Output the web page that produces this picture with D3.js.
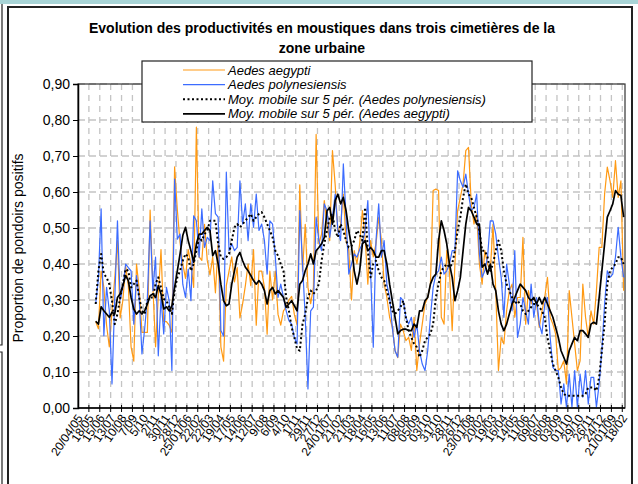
<!DOCTYPE html>
<html>
<head>
<meta charset="utf-8">
<title>Evolution des productivités</title>
<script src="https://cdn.jsdelivr.net/npm/d3@7"></script>
<style>
  body { margin: 0; background: #fff; }
  svg { font-family: "Liberation Sans", Arial, sans-serif; }
  .grid line { stroke: #c4c4c4; stroke-width: 1.3; }
</style>
</head>
<body>
<script>
// tick labels, one every 4 weeks (201 weekly samples)
var tickLabels = ["20/04/05","18/05","15/06","13/07","10/08","7/09","5/10","2/11","30/11","28/12",
  "25/01/06","22/02","22/03","19/04","17/05","14/06","12/07","9/08","6/09","4/10","1/11","29/11","27/12",
  "24/01/07","21/02","21/03","18/04","16/05","13/06","11/07","08/08","05/09","03/10","31/10","28/11","26/12",
  "23/01/08","20/02","19/03","16/04","14/05","11/06","09/07","06/08","03/09","01/10","29/10","26/11","24/12",
  "21/01/09","18/02"];
var nWeeks = 201;

var aegypti = [null,null,null,null,null,null,
  .24,.22,.38,.335,.23,.17,.27,.36,.465,.25,.30,.395,.34,.17,.13,.40,.33,.21,.21,.21,
  .55,.34,.17,.31,.44,.24,.24,.23,.21,.67,.55,.46,.40,.36,.44,.40,.335,.78,.42,.41,
  .51,.41,.37,.42,.32,.456,.17,.13,.34,.38,.42,.35,.39,.25,.29,.34,.40,.34,.44,.23,
  .38,.38,.335,.205,.38,.30,.38,.26,.23,.27,.28,.30,.31,.26,.23,.62,.38,.51,.335,.29,
  .335,.76,.456,.483,.576,.51,.465,.715,.62,.49,.51,.594,.465,.437,.30,.437,.40,.456,.548,.474,
  .344,.465,.42,.456,.53,.465,.344,.307,.252,.224,.16,.14,.233,.215,.187,.196,.16,.252,.104,.178,
  .233,.289,.307,.344,.604,.608,.604,.252,.233,.437,.381,.215,.40,.548,.585,.622,.715,.724,.567,.511,
  .539,.40,.344,.437,.40,.381,.511,.326,.104,.196,.178,.27,.326,.344,.252,.307,.307,.474,.233,.326,
  .289,.307,.289,.224,.27,.307,.363,.252,.233,.206,.104,.113,.131,.067,.326,.252,.178,.104,.131,.344,
  .252,.196,.27,.233,.326,.446,.446,.594,.669,.631,.585,.687,.585,.631,.326];

var polynesiensis = [null,null,null,null,null,null,
  .289,.36,.553,.201,.335,.27,.067,.30,.52,.30,.335,.40,.39,.381,.233,.368,.30,.15,.22,.307,
  .52,.326,.419,.145,.307,.206,.335,.298,.104,.636,.469,.483,.344,.307,.386,.298,.534,.52,.419,.553,
  .446,.474,.465,.631,.54,.53,.215,.20,.655,.437,.456,.437,.446,.631,.511,.567,.465,.567,.502,.594,
  .493,.511,.465,.372,.52,.511,.419,.307,.344,.307,.27,.243,.233,.196,.178,.548,.40,.252,.053,.27,
  .28,.53,.465,.437,.567,.548,.474,.53,.594,.493,.465,.678,.53,.372,.40,.428,.419,.44,.456,.493,
  .576,.381,.169,.465,.567,.419,.465,.344,.307,.224,.159,.141,.307,.298,.252,.233,.252,.196,.233,.159,
  .122,.104,.159,.252,.335,.372,.381,.419,.372,.381,.40,.437,.437,.659,.631,.613,.65,.594,.548,.557,
  .594,.428,.363,.381,.419,.52,.52,.483,.419,.363,.252,.40,.344,.27,.437,.196,.233,.307,.27,.233,
  .344,.252,.307,.233,.206,.289,.307,.196,.113,.104,.104,.011,.067,.002,.094,.002,.104,.002,.094,.03,
  .104,.011,.085,.085,.002,.067,.159,.289,.381,.363,.372,.419,.502,.419,.363];

var mmAegypti = [null,null,null,null,null,null,
  .241,.233,.281,.27,.261,.252,.266,.261,.307,.317,.34,.368,.354,.307,.275,.261,.27,.261,.27,.289,
  .312,.317,.307,.34,.317,.275,.281,.27,.284,.335,.381,.428,.479,.502,.465,.437,.405,.456,.483,.483,
  .493,.502,.493,.423,.437,.40,.344,.298,.284,.289,.344,.381,.419,.432,.409,.391,.381,.368,.354,.344,
  .354,.344,.326,.289,.326,.335,.317,.326,.317,.307,.28,.289,.298,.284,.27,.344,.354,.381,.40,.428,
  .40,.437,.446,.456,.474,.548,.557,.511,.576,.594,.567,.585,.548,.493,.45,.381,.344,.381,.456,.465,
  .437,.446,.437,.419,.419,.437,.437,.40,.344,.298,.252,.206,.215,.219,.219,.215,.215,.233,.224,.27,
  .27,.298,.307,.344,.363,.372,.465,.52,.493,.456,.40,.363,.298,.326,.363,.437,.511,.557,.548,.53,
  .511,.511,.391,.40,.372,.40,.344,.326,.27,.233,.215,.233,.261,.289,.307,.326,.344,.335,.326,.307,
  .298,.307,.289,.307,.289,.307,.289,.27,.252,.224,.196,.159,.141,.122,.159,.178,.196,.187,.215,.215,
  .206,.196,.233,.238,.233,.307,.381,.456,.53,.548,.567,.604,.594,.59,.53];

var mmPolynesiensis = [null,null,null,null,null,null,
  .289,.381,.428,.372,.363,.344,.298,.233,.261,.307,.344,.386,.381,.335,.344,.354,.307,.27,.261,.298,
  .307,.307,.344,.363,.335,.303,.298,.28,.261,.326,.363,.381,.409,.428,.419,.381,.40,.437,.474,.465,
  .483,.493,.52,.52,.52,.456,.419,.414,.419,.428,.465,.502,.511,.502,.511,.52,.53,.539,.52,.53,
  .539,.544,.53,.511,.493,.474,.437,.423,.40,.381,.307,.27,.224,.196,.164,.159,.233,.261,.307,.326,
  .317,.326,.344,.409,.456,.493,.53,.539,.493,.474,.511,.493,.465,.446,.45,.465,.493,.483,.465,.557,
  .437,.363,.40,.409,.381,.363,.354,.326,.298,.27,.261,.27,.28,.298,.252,.215,.196,.178,.169,.141,
  .159,.187,.196,.206,.233,.307,.344,.381,.391,.40,.391,.40,.437,.493,.53,.585,.622,.594,.585,.557,
  .53,.493,.437,.437,.419,.381,.40,.437,.465,.437,.381,.344,.326,.307,.289,.298,.289,.27,.261,.27,
  .28,.289,.289,.28,.27,.252,.196,.159,.122,.104,.085,.057,.039,.034,.034,.034,.034,.034,.034,.034,
  .039,.057,.057,.057,.048,.085,.159,.233,.344,.381,.391,.40,.419,.419,.40];

var seriesNames = ["Aedes aegypti", "Aedes polynesiensis",
  "Moy. mobile sur 5 pér. (Aedes polynesiensis)", "Moy. mobile sur 5 pér. (Aedes aegypti)"];
var yTicks = [0, .1, .2, .3, .4, .5, .6, .7, .8, .9];

var W = 638, H = 484;
var plot = {left: 78, top: 84, right: 625, bottom: 408};

var svg = d3.select("body").append("svg")
    .attr("width", W).attr("height", H);

// window bits around the chart
svg.append("rect").attr("x", 0).attr("y", 0).attr("width", W).attr("height", 4).attr("fill", "#a8d4d6");
svg.append("rect").attr("x", 8).attr("y", 7).attr("width", 624).attr("height", 490)
    .attr("fill", "#fff").attr("stroke", "#222").attr("stroke-width", 2);
svg.append("path").attr("d", "M2,4V345H0 M0,352H2V484").attr("fill", "none").attr("stroke", "#222").attr("stroke-width", 1.2);

// title
var title = svg.append("text").attr("text-anchor", "middle")
    .attr("font-size", 14).attr("font-weight", "bold").attr("fill", "#000");
title.append("tspan").attr("x", 322).attr("y", 33).text("Evolution des productivités en moustiques dans trois cimetières de la");
title.append("tspan").attr("x", 322).attr("y", 53).text("zone urbaine");

var weeks = d3.range(nWeeks);
var x = d3.scaleBand().domain(weeks).range([plot.left, plot.right]);
var y = d3.scaleLinear().domain([0, 0.9]).range([plot.bottom, plot.top]);
var cx = function(i) { return x(i) + x.bandwidth() / 2; };

// grid
var grid = svg.append("g").attr("class", "grid");
grid.selectAll(".h").data(yTicks.slice(1)).enter().append("line")
    .attr("x1", plot.left).attr("x2", plot.right)
    .attr("y1", function(d) { return y(d); }).attr("y2", function(d) { return y(d); })
    .attr("stroke-dasharray", "7,4");
var tickIdx = d3.range(4, nWeeks, 4);
grid.selectAll(".v").data(tickIdx).enter().append("line")
    .attr("x1", function(d) { return x(d); }).attr("x2", function(d) { return x(d); })
    .attr("y1", plot.top).attr("y2", plot.bottom)
    .attr("stroke-dasharray", "6,5");

// plot frame
svg.append("rect").attr("x", plot.left).attr("y", plot.top)
    .attr("width", plot.right - plot.left).attr("height", plot.bottom - plot.top)
    .attr("fill", "none").attr("stroke", "#333").attr("stroke-width", 1.2);

// series
var line = d3.line()
    .defined(function(d) { return d != null; })
    .x(function(d, i) { return cx(i); })
    .y(function(d) { return y(d); });

var styles = [
  {data: aegypti, color: "#ff9a14", width: 1.2, dash: null},
  {data: polynesiensis, color: "#3c6cff", width: 1.2, dash: null},
  {data: mmPolynesiensis, color: "#000", width: 2, dash: "2,2.5"},
  {data: mmAegypti, color: "#000", width: 1.7, dash: null}
];
styles.forEach(function(s) {
  svg.append("path").datum(s.data)
      .attr("fill", "none").attr("stroke", s.color)
      .attr("stroke-width", s.width)
      .attr("stroke-dasharray", s.dash)
      .attr("stroke-linejoin", "round")
      .attr("d", line);
});

// y axis
var yAxis = svg.append("g")
    .attr("transform", "translate(" + plot.left + ",0)")
    .call(d3.axisLeft(y).tickValues(yTicks).tickSize(5).tickPadding(3)
      .tickFormat(function(d) { return d3.format(".2f")(d).replace(".", ","); }));
yAxis.select(".domain").attr("stroke", "#000").attr("stroke-width", 1.5);
yAxis.selectAll("text").attr("font-size", 14).attr("fill", "#000").attr("font-family", "Liberation Sans, Arial, sans-serif");

// x axis: ticks every 4 weeks, labels rotated
var xAxis = svg.append("g")
    .attr("transform", "translate(0," + plot.bottom + ")");
xAxis.append("line").attr("x1", plot.left).attr("x2", plot.right)
    .attr("stroke", "#000").attr("stroke-width", 1.5);
xAxis.selectAll(".tk").data(tickIdx).enter().append("line")
    .attr("x1", function(d) { return x(d); }).attr("x2", function(d) { return x(d); })
    .attr("y1", -3).attr("y2", 4).attr("stroke", "#000");
xAxis.selectAll(".lb").data(tickLabels).enter().append("text")
    .attr("text-anchor", "end")
    .attr("font-size", 12)
    .attr("transform", function(d, k) { return "translate(" + (cx(k * 4) + 4) + ",10) rotate(-56)"; })
    .text(function(d) { return d; });

// y title
svg.append("text").attr("text-anchor", "middle").attr("font-size", 14)
    .attr("transform", "translate(23,248) rotate(-90)")
    .text("Proportion de pondoirs positifs");

// legend
var lg = svg.append("g").attr("transform", "translate(142,61)");
lg.append("rect").attr("width", 390).attr("height", 61)
    .attr("fill", "#fff").attr("stroke", "#222").attr("stroke-width", 1.2);
seriesNames.forEach(function(name, k) {
  var yy = 9 + k * 14.6;
  lg.append("line").attr("x1", 41).attr("x2", 83).attr("y1", yy).attr("y2", yy)
      .attr("stroke", styles[k].color).attr("stroke-width", styles[k].width)
      .attr("stroke-dasharray", styles[k].dash);
  lg.append("text").attr("x", 86).attr("y", yy + 4.5)
      .attr("font-size", 13).attr("font-style", "italic").text(name);
});
</script>
</body>
</html>
